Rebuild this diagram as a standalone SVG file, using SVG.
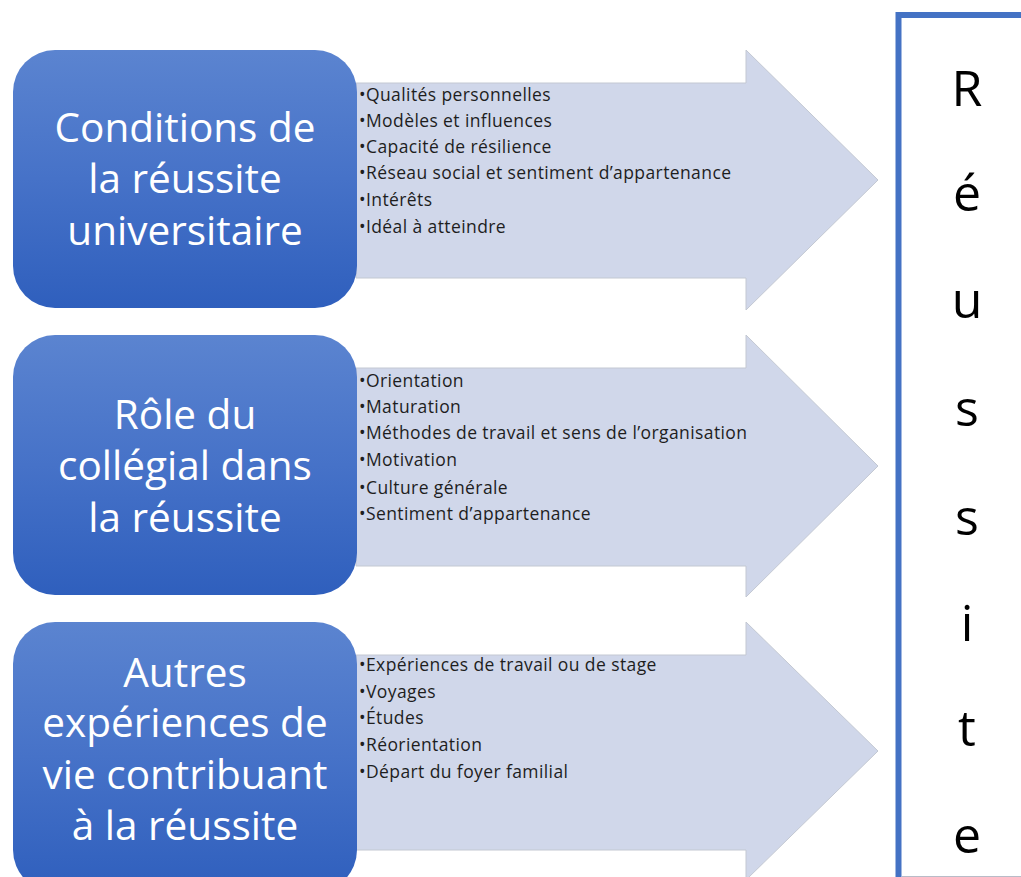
<svg xmlns="http://www.w3.org/2000/svg" width="1021" height="877" viewBox="0 0 1021 877">
<defs>
<linearGradient id="bg" x1="0" y1="0" x2="0" y2="1">
<stop offset="0" stop-color="#5b84d0"/>
<stop offset="0.5" stop-color="#4672c8"/>
<stop offset="1" stop-color="#2f5fbd"/>
</linearGradient>
<style>
.box{fill:url(#bg);}
.arr{fill:#d0d7ea;stroke:#c3c8d2;stroke-width:1;}
.bt{font-family:"Open Sans","Liberation Sans",sans-serif;font-size:40.5px;fill:#ffffff;text-anchor:middle;}
.li{font-family:"Open Sans","Liberation Sans",sans-serif;font-size:17.5px;letter-spacing:0.4px;fill:#1e1e1e;}
.big{font-family:"Open Sans","Liberation Sans",sans-serif;font-size:50px;fill:#000000;text-anchor:middle;}
</style>
</defs>
<rect width="1021" height="877" fill="#ffffff"/>
<g id="connectors">
<path class="arr" d="M356 83 H746 V50 L878 180 L746 310 V278 H356 Z"/>
<path class="arr" d="M356 368 H746 V335 L878 466 L746 597 V566 H356 Z"/>
<path class="arr" d="M356 655 H746 V622 L878 751 L746 880 V850 H356 Z"/>
</g>
<g id="node1">
<rect class="box" x="13" y="50" width="344" height="258" rx="42"/>
<text class="bt" x="185" y="142">Conditions de</text>
<text class="bt" x="185" y="193">la réussite</text>
<text class="bt" x="185" y="245">universitaire</text>
</g>
<g id="list1">
<text class="li" x="359" y="101">•Qualités personnelles</text>
<text class="li" x="359" y="127">•Modèles et influences</text>
<text class="li" x="359" y="153">•Capacité de résilience</text>
<text class="li" x="359" y="179">•Réseau  social et sentiment d’appartenance</text>
<text class="li" x="359" y="206">•Intérêts</text>
<text class="li" x="359" y="233">•Idéal à atteindre</text>
</g>
<g id="node2">
<rect class="box" x="13" y="335" width="344" height="260" rx="42"/>
<text class="bt" x="185" y="429">Rôle du</text>
<text class="bt" x="185" y="480">collégial dans</text>
<text class="bt" x="185" y="532">la réussite</text>
</g>
<g id="list2">
<text class="li" x="359" y="387">•Orientation</text>
<text class="li" x="359" y="413">•Maturation</text>
<text class="li" x="359" y="439">•Méthodes de travail et sens de l’organisation</text>
<text class="li" x="359" y="466">•Motivation</text>
<text class="li" x="359" y="494">•Culture générale</text>
<text class="li" x="359" y="520">•Sentiment d’appartenance</text>
</g>
<g id="node3">
<rect class="box" x="13" y="622" width="344" height="270" rx="42"/>
<text class="bt" x="185" y="687">Autres</text>
<text class="bt" x="185" y="737">expériences de</text>
<text class="bt" x="185" y="789">vie contribuant</text>
<text class="bt" x="185" y="840">à la réussite</text>
</g>
<g id="list3">
<text class="li" x="359" y="671">•Expériences de travail ou de stage</text>
<text class="li" x="359" y="698">•Voyages</text>
<text class="li" x="359" y="724">•Études</text>
<text class="li" x="359" y="751">•Réorientation</text>
<text class="li" x="359" y="778">•Départ du foyer familial</text>
</g>
<g id="result">
<rect x="898.5" y="15" width="140" height="880" fill="#ffffff" stroke="#4472c4" stroke-width="6"/>
<line x1="902" y1="876.5" x2="1021" y2="876.5" stroke="#b8bcc8" stroke-width="1"/>
<text class="big" x="967" y="106">R</text>
<text class="big" x="967" y="211">é</text>
<text class="big" x="967" y="318">u</text>
<text class="big" x="967" y="426">s</text>
<text class="big" x="967" y="535">s</text>
<text class="big" x="967" y="641">i</text>
<text class="big" x="967" y="746">t</text>
<text class="big" x="967" y="853">e</text>
</g>
</svg>
